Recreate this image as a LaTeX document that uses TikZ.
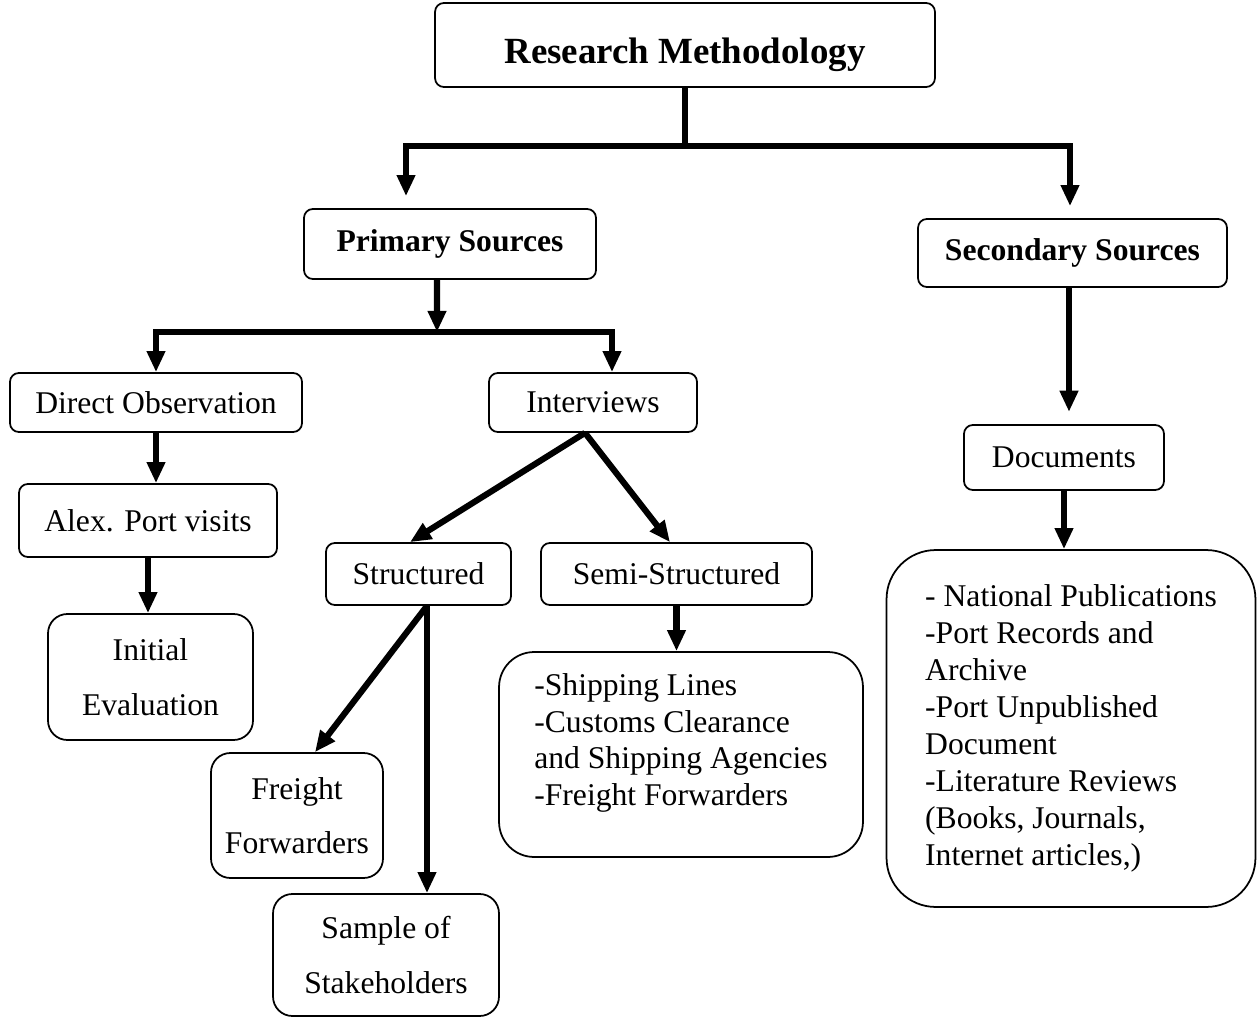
\documentclass[tikz,border=0pt]{standalone}
\usepackage{fontspec}
\setmainfont{Liberation Serif}
\usetikzlibrary{arrows.meta,positioning}
\tikzset{
  caja/.style={draw,line width=1pt,rounded corners=5pt,inner sep=2pt,align=center,font=\fontsize{18}{21}\selectfont},
  cajaalta/.style={caja,rounded corners=11pt,font=\fontsize{18}{31}\selectfont},
  lista/.style={caja,align=left},
  flecha/.style={-{Triangle[length=12pt,width=10pt]},line width=3.5pt},
  linea/.style={line width=3.5pt}
}

\begin{document}
\begin{tikzpicture}[x=0.02cm,y=-0.02cm]
\useasboundingbox (0,0) rectangle (1258,1017);
% cajas
\node[caja,minimum width=10cm,minimum height=1.68cm,text height=21pt,text depth=0pt,font=\fontsize{21}{25}\bfseries] (metodo) at (685,45) {Research Methodology};
\node[caja,minimum width=5.84cm,minimum height=1.4cm,font=\fontsize{18}{21}\bfseries] (primarias) at (450,244) {Primary Sources};
\node[caja,minimum width=6.18cm,minimum height=1.36cm,font=\fontsize{18}{21}\bfseries] (secundarias) at (1072.5,253) {Secondary Sources};
\node[caja,minimum width=5.84cm,minimum height=1.18cm] (directa) at (156,402.5) {Direct Observation};
\node[caja,minimum width=4.16cm,minimum height=1.18cm] (entrevistas) at (593,402.5) {Interviews};
\node[caja,minimum width=5.16cm,minimum height=1.46cm] (visitas) at (148,520.5) {Alex. Port visits};
\node[cajaalta,minimum width=4.1cm,minimum height=2.52cm] (inicial) at (150.5,677) {Initial\\Evaluation};
\node[caja,minimum width=3.7cm,minimum height=1.24cm] (estructurada) at (418.5,574) {Structured};
\node[caja,minimum width=5.42cm,minimum height=1.24cm] (semi) at (676.5,574) {Semi-Structured};
\node[lista,rounded corners=20pt,minimum width=7.28cm,minimum height=4.1cm] (semilista) at (681,754.5)
  {-Shipping Lines\\-Customs Clearance\\and Shipping Agencies\\-Freight Forwarders\\[-4pt]};
\node[cajaalta,minimum width=3.44cm,minimum height=2.5cm] (fletes) at (297,815.5) {Freight\\Forwarders};
\node[cajaalta,minimum width=4.52cm,minimum height=2.44cm] (muestra) at (386,955) {Sample of\\Stakeholders};
\node[caja,minimum width=4cm,minimum height=1.3cm] (documentos) at (1064,457.5) {Documents};
\node[lista,rounded corners=28pt,minimum width=7.38cm,minimum height=7.14cm] (doclista) at (1071,728.5)
  {- National Publications\\-Port Records and\\Archive\\-Port Unpublished\\Document\\-Literature Reviews\\(Books, Journals,\\Internet articles,)};
% conectores
\coordinate (t1) at (685,146);
\coordinate (t2) at (437,332);
\draw[linea] (metodo.south) -- (t1);
\draw[flecha] (t1) -| ([xshift=-0.88cm,yshift=0.24cm]primarias.north);
\draw[flecha] (t1) -| ([xshift=-0.05cm,yshift=0.24cm]secundarias.north);
\draw[flecha] ([xshift=-0.26cm]primarias.south) -- (t2);
\draw[flecha] (t2) -| (directa.north);
\draw[flecha] (t2) -| ([xshift=0.38cm]entrevistas.north);
\draw[flecha] (directa.south) -- (directa.south |- visitas.north);
\draw[flecha] (visitas.south) -- (visitas.south |- inicial.north);
\draw[flecha] ([xshift=-0.16cm]entrevistas.south) -- ([xshift=-0.17cm]estructurada.north);
\draw[flecha] ([xshift=-0.16cm]entrevistas.south) -- ([xshift=-0.13cm]semi.north);
\draw[flecha] (semi.south) -- (semi.south |- semilista.north);
\draw[flecha] ([xshift=0.17cm]estructurada.south) -- ([xshift=0.36cm]fletes.north);
\draw[flecha] ([xshift=0.17cm]estructurada.south) -- ([xshift=0.17cm]estructurada.south |- muestra.north);
\draw[flecha,shorten >=7pt] ([xshift=-0.07cm]secundarias.south) -- ([xshift=-0.07cm]secundarias.south |- documentos.north);
\draw[flecha] (documentos.south) -- (documentos.south |- doclista.north);
\end{tikzpicture}
\end{document}
